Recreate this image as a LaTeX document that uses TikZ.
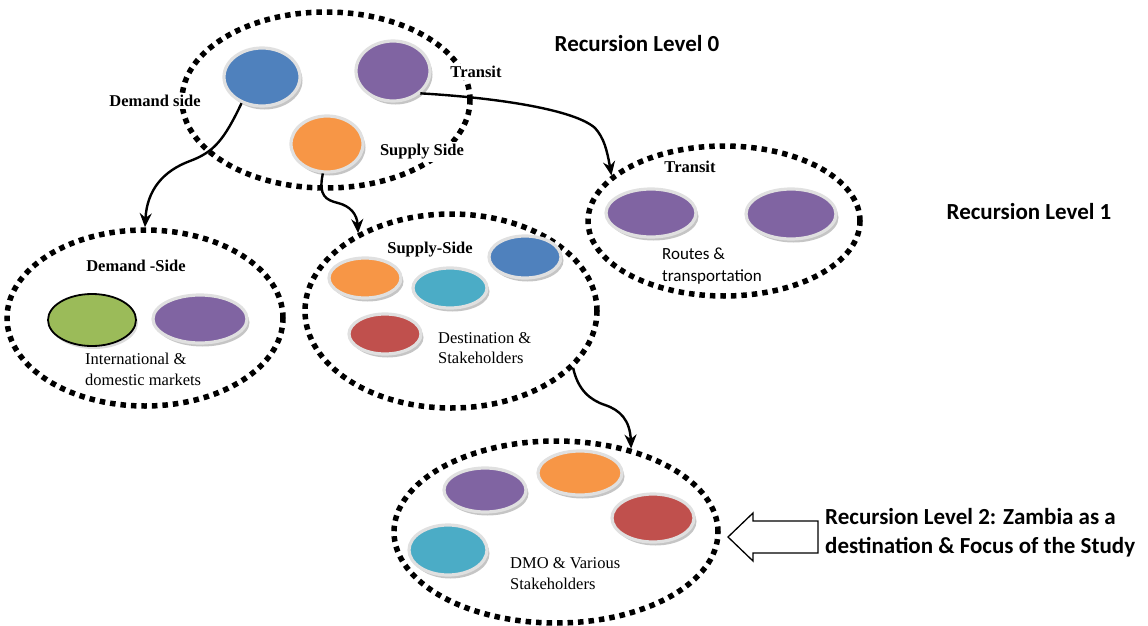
\documentclass[tikz,border=0pt]{standalone}
\usepackage{fontspec}
\setmainfont{Liberation Serif}
\newfontfamily\calib{Carlito}
\usetikzlibrary{shapes.geometric,arrows.meta,shadows}
\definecolor{oblue}{HTML}{4F81BD}
\definecolor{opurple}{HTML}{8064A2}
\definecolor{oorange}{HTML}{F79646}
\definecolor{oteal}{HTML}{4BACC6}
\definecolor{ored}{HTML}{C0504D}
\definecolor{ogreen}{HTML}{9BBB59}
\begin{document}
\begin{tikzpicture}[x=1pt,y=-1pt,
  ring/.style={ellipse, draw=black, line width=5.5pt, dash pattern=on 5.5pt off 5pt, inner sep=0pt},
  blob/.style={ellipse, fill=#1, draw=white!88!black, line width=3.2pt, inner sep=0pt,
    drop shadow={shadow xshift=2.5pt, shadow yshift=-3.5pt, fill=black!45, opacity=0.5}},
  flatblob/.style={ellipse, fill=#1, draw=black, line width=1.8pt, inner sep=0pt,
    drop shadow={shadow xshift=2pt, shadow yshift=-3pt, fill=black!40, opacity=0.35}},
  lbl/.style={font=\fontsize{16.5}{20}\selectfont\bfseries, fill=white, inner sep=2pt},
  txt/.style={font=\fontsize{16.5}{21}\selectfont, align=left, anchor=west, inner sep=0pt},
  sanstxt/.style={font=\calib\fontsize{17}{22}\selectfont, align=left, anchor=west, inner sep=0pt},
  level/.style={font=\calib\fontsize{23}{30}\selectfont\bfseries, inner sep=0pt},
  conn/.style={line width=2.4pt, -{Stealth[length=14pt,width=12pt]}}]
\path[use as bounding box] (0,0) rectangle (1148,626);

% ---- level 0 ----
\node[ring, minimum width=288pt, minimum height=176pt] (top) at (326,100) {};
\node[blob=oblue,   minimum width=76pt, minimum height=58pt] (blueT) at (262,77) {};
\node[blob=opurple, minimum width=74pt, minimum height=60pt] (purpT) at (393,71) {};
\node[blob=oorange, minimum width=72pt, minimum height=56pt] (orT)   at (327,144) {};
\node[lbl] (lDem)  at (155,101) {Demand side};
\node[lbl] (lTra)  at (476,72)  {Transit};
\node[lbl] (lSup)  at (422,152) {Supply Side};
\node[level] (lev0) at (637,44) {Recursion Level 0};

% ---- level 1: demand side ----
\node[ring, minimum width=276pt, minimum height=176pt] (dem) at (145,318) {};
\node[flatblob=ogreen, minimum width=88pt, minimum height=52pt] (greenD) at (92,320) {};
\node[blob=opurple, minimum width=94pt, minimum height=48pt] (purpD) at (200,319) {};
\node[lbl] (lDemS) at (136,266) {Demand -Side};
\node[txt] (tDem) at (85,369) {International \&\\domestic markets};

% ---- level 1: supply side ----
\node[ring, minimum width=292pt, minimum height=194pt] (sup) at (451,311) {};
\node[blob=oorange, minimum width=72pt, minimum height=40pt] (orS)   at (365,278) {};
\node[blob=oteal,   minimum width=74pt, minimum height=40pt] (tealS) at (450,288) {};
\node[blob=oblue,   minimum width=72pt, minimum height=42pt] (blueS) at (525,257) {};
\node[blob=ored,    minimum width=72pt, minimum height=40pt] (redS)  at (385,334) {};
\node[lbl] (lSupS) at (430,250) {Supply-Side};
\node[txt, font=\fontsize{16.5}{20}\selectfont] (tSup) at (438,348) {Destination \&\\Stakeholders};

% ---- level 1: transit ----
\node[ring, minimum width=272pt, minimum height=150pt] (trans) at (724,221) {};
\node[blob=opurple, minimum width=90pt, minimum height=48pt] (purpR1) at (651,213) {};
\node[blob=opurple, minimum width=90pt, minimum height=50pt] (purpR2) at (791,214) {};
\node[lbl] (lTraS) at (690,167) {Transit};
\node[sanstxt] (tTra) at (662,266) {Routes \&\\transportation};
\node[level] (lev1) at (1029,212) {Recursion Level 1};

% ---- level 2 ----
\node[ring, minimum width=324pt, minimum height=182pt] (bot) at (556,532) {};
\node[blob=opurple, minimum width=82pt, minimum height=44pt] (purpB) at (485,490) {};
\node[blob=oorange, minimum width=84pt, minimum height=44pt] (orB)   at (580,473) {};
\node[blob=ored,    minimum width=82pt, minimum height=48pt] (redB)  at (653,518) {};
\node[blob=oteal,   minimum width=78pt, minimum height=50pt] (tealB) at (448,550) {};
\node[txt] (tBot) at (510,574) {DMO \& Various\\Stakeholders};

% hollow pointer towards the level-2 destination
\draw[line width=1.3pt, fill=white] (728,537) -- (753,513) -- (753,521) -- (818,521)
  -- (818,553) -- (753,553) -- (753,561) -- cycle;
\node[level, anchor=west, align=left, font=\calib\fontsize{23}{29}\selectfont\bfseries]
  (lev2) at (825,533) {Recursion Level 2: Zambia as a\\destination \& Focus of the Study};

% ---- connectors ----
\draw[conn] (blueT.232) .. controls (224,140) and (214,152) .. (190,161)
  .. controls (163,171) and (147,190) .. (dem.north);
\draw[conn] (orT.262) .. controls (318,196) and (326,200) .. (338,203)
  .. controls (350,206) and (357,214) .. (sup.140);
\draw[conn] (purpT.south east) .. controls (500,98) and (575,110) .. (595,128)
  .. controls (604,138) and (607,150) .. (trans.158);
\draw[conn] (sup.-25) .. controls (578,390) and (590,400) .. (605,405)
  .. controls (620,410) and (630,420) .. (bot.48);
\end{tikzpicture}
\end{document}
